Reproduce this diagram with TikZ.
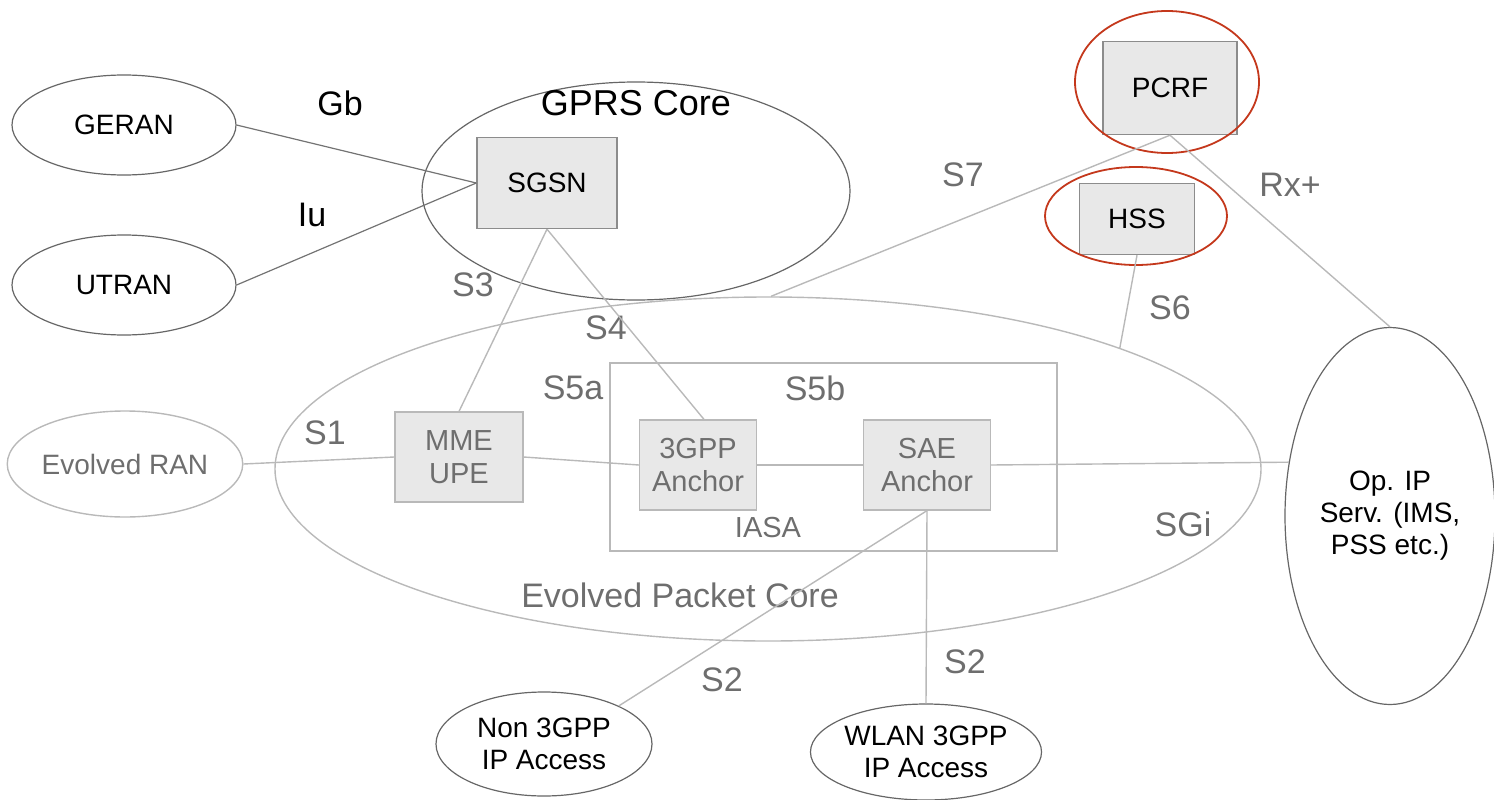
\documentclass[tikz,border=0pt]{standalone}
\usepackage{fontspec}
\setmainfont{Liberation Sans}
\usetikzlibrary{shapes.geometric}
\definecolor{linegray}{RGB}{185,185,185}
\definecolor{textgray}{RGB}{110,110,110}
\definecolor{boxfill}{RGB}{232,232,232}
\definecolor{hilite}{RGB}{196,56,28}
\tikzset{
  blackell/.style={ellipse, draw=black!60, line width=1.2pt, inner sep=0pt, font=\fontsize{28}{32}\selectfont, align=center},
  grayell/.style={ellipse, draw=linegray, line width=1.4pt, inner sep=0pt},
  blackbox/.style={rectangle, draw=black!45, fill=boxfill, line width=1.4pt, inner sep=0pt, font=\fontsize{28}{32}\selectfont, align=center},
  graybox/.style={rectangle, draw=linegray, fill=boxfill, line width=1.2pt, inner sep=0pt, text=textgray, font=\fontsize{29}{33}\selectfont, align=center},
  link/.style={draw=linegray, line width=1.4pt},
  blink/.style={draw=black!55, line width=1.2pt},
  iflbl/.style={text=textgray, font=\fontsize{34}{38}\selectfont, inner sep=0pt},
  blklbl/.style={text=black, font=\fontsize{34}{38}\selectfont, inner sep=0pt},
  ring/.style={ellipse, draw=hilite, line width=1.8pt, inner sep=0pt},
}
\begin{document}
\begin{tikzpicture}[x=1pt,y=-1pt]
\useasboundingbox (0,0) rectangle (1494,800);

% GPRS side
\node[blackell, minimum width=224pt, minimum height=100pt] (geran) at (124,125) {GERAN};
\node[blackell, minimum width=224pt, minimum height=100pt] (utran) at (124,285) {UTRAN};
\node[ellipse, draw=black!60, line width=1.2pt, minimum width=428pt, minimum height=218pt] (gprs) at (636,191) {};
\node[blklbl, font=\fontsize{36}{40}\selectfont] (gprslbl) at (636,103) {GPRS Core};
\node[blackbox, minimum width=140pt, minimum height=91pt] (sgsn) at (547,183) {SGSN};
\node[blklbl] (gb) at (340,103) {Gb};
\node[blklbl] (iu) at (312,215) {Iu};

% policy and subscriber servers
\node[blackbox, minimum width=134pt, minimum height=93pt] (pcrf) at (1170,88) {PCRF};
\node[blackbox, minimum width=115pt, minimum height=71pt] (hss) at (1137,219) {HSS};
\node[ring, minimum width=184pt, minimum height=142pt] (pcrfring) at (1167,82) {};
\node[ring, minimum width=182pt, minimum height=98pt] (hssring) at (1136,216) {};

% evolved packet core
\node[grayell, minimum width=986pt, minimum height=344pt] (epc) at (768,469) {};
\node[iflbl] (epclbl) at (680,595) {Evolved Packet Core};
\node[rectangle, draw=linegray, line width=1.2pt, minimum width=447pt, minimum height=188pt, inner sep=0pt] (iasa) at (833.5,457) {};
\node[iflbl, font=\fontsize{29}{33}\selectfont] (iasalbl) at (768,528) {IASA};
\node[graybox, minimum width=128pt, minimum height=90pt] (mme) at (459,457) {MME\\UPE};
\node[graybox, minimum width=117pt, minimum height=90pt] (gpp) at (698,465) {3GPP\\Anchor};
\node[graybox, minimum width=127pt, minimum height=90pt] (sae) at (927,465) {SAE\\Anchor};
\node[grayell, minimum width=226pt, minimum height=106pt, text=textgray, font=\fontsize{28}{32}\selectfont] (eran) at (125,464) {Evolved RAN};

% access networks and services
\node[blackell, minimum width=210pt, minimum height=377pt] (opip) at (1390,516) {Op. IP\\Serv. (IMS,\\PSS etc.)};
\node[blackell, minimum width=216pt, minimum height=104pt] (non) at (544,744) {Non 3GPP\\IP Access};
\node[blackell, minimum width=222pt, minimum height=96pt] (wlan) at (926,752) {WLAN 3GPP\\IP Access};

% interface labels
\node[iflbl] (s7) at (963,175) {S7};
\node[iflbl] (rx) at (1290,185) {Rx+};
\node[iflbl] (s6) at (1170,308) {S6};
\node[iflbl] (s3) at (473,285) {S3};
\node[iflbl] (s4) at (606,328) {S4};
\node[iflbl] (s5a) at (573,388) {S5a};
\node[iflbl] (s5b) at (815,388) {S5b};
\node[iflbl] (s1) at (325,433) {S1};
\node[iflbl] (sgi) at (1183,524) {SGi};
\node[iflbl] (s2a) at (722,680) {S2};
\node[iflbl] (s2b) at (965,662) {S2};

% connectors
\draw[blink] (geran.east) -- (sgsn.west);
\draw[blink] (utran.east) -- (sgsn.west);
\draw[link] (sgsn.south) -- (mme.north);
\draw[link] (sgsn.south) -- ([xshift=6pt]gpp.north);
\draw[link] (pcrf.south) -- (epc.89);
\draw[link] (pcrf.south) -- (opip.north);
\draw[link] (hss.south) -- (epc.19.4);
\draw[link] (eran.east) -- (mme.west);
\draw[link] (mme.east) -- (gpp.west);
\draw[link] (gpp.east) -- (sae.west);
\draw[link] (sae.east) -- (opip.152.5);
\draw[link] (sae.south) -- (non.27);
\draw[link] (sae.south) -- (wlan.north);
\end{tikzpicture}
\end{document}
